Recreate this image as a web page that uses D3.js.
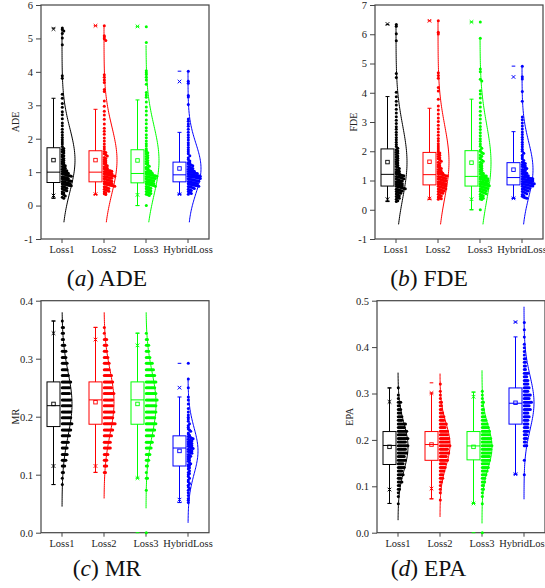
<!DOCTYPE html>
<html>
<head>
<meta charset="utf-8">
<script src="https://cdn.jsdelivr.net/npm/d3@7"></script>
<style>
  body { margin: 0; background: #fff; }
  svg { display: block; font-family: "Liberation Serif", "Times New Roman", serif; }
</style>
</head>
<body>
<svg width="545" height="588"></svg>
<script>
var categories = ["Loss1", "Loss2", "Loss3", "HybridLoss"];
var groupColors = ["#000000", "#ff0000", "#00ff00", "#0000ff"];

// ---- ADE ----
var adeTicks = [-1, 0, 1, 2, 3, 4, 5, 6];
var adeQ1 = [0.69, 0.71, 0.68, 0.71];
var adeMedian = [1.00, 1.00, 0.96, 0.92];
var adeQ3 = [1.73, 1.64, 1.67, 1.30];
var adeMean = [1.36, 1.36, 1.35, 1.11];
var adeWhiskerLo = [0.22, 0.33, 0.00, 0.34];
var adeWhiskerHi = [3.21, 2.88, 3.16, 2.19];
var adeP1 = [0.30, 0.34, 0.32, 0.34];
var adeP99 = [5.28, 5.38, 5.36, 3.71];
var adeMin = [0.22, 0.33, 0.00, 0.34];
var adeMax = [5.31, 5.38, 5.35, 4.02];
var adeSd = [0.95, 1.00, 1.05, 0.75];
var adeCurveLo = [-0.5, -0.5, -0.5, -0.5];
var adeCurveHi = [5.30, 5.38, 4.80, 4.02];
var adeLoss1 = [5.31, 5.27, 5.22, 5.15, 5.01, 4.81, 3.88, 3.81, 3.33, 3.21, 3.05, 2.94, 2.81, 2.72, 2.60, 2.47, 2.39, 2.28, 2.19, 2.11, 2.04, 1.97, 1.90, 1.84, 1.77,
  1.71, 1.68, 1.64, 1.61, 1.57, 1.52, 1.49, 1.46, 1.41, 1.38, 1.35, 1.31, 1.28, 1.25, 1.22, 1.19, 1.17, 1.14, 1.12, 1.09, 1.07, 1.05, 1.04, 1.02, 1.01,
  0.99, 0.98, 0.97, 0.95, 0.94, 0.93, 0.91, 0.90, 0.89, 0.88, 0.86, 0.85, 0.84, 0.83, 0.81, 0.80, 0.79, 0.78, 0.77, 0.75, 0.74, 0.73, 0.72, 0.71, 0.70,
  0.68, 0.67, 0.66, 0.65, 0.64, 0.63, 0.62, 0.61, 0.60, 0.59, 0.57, 0.56, 0.54, 0.52, 0.50, 0.48, 0.46, 0.44, 0.41, 0.38, 0.35, 0.32, 0.29, 0.25, 0.22];
var adeLoss2 = [5.38, 5.08, 5.04, 4.99, 4.94, 3.91, 3.84, 3.76, 3.68, 3.47, 3.41, 3.13, 2.97, 2.82, 2.71, 2.58, 2.44, 2.31, 2.22, 2.13, 2.02, 1.93, 1.84, 1.76, 1.69,
  1.62, 1.59, 1.55, 1.51, 1.48, 1.44, 1.41, 1.37, 1.34, 1.31, 1.28, 1.25, 1.22, 1.19, 1.16, 1.14, 1.12, 1.10, 1.08, 1.06, 1.05, 1.04, 1.03, 1.02, 1.01,
  0.99, 0.98, 0.97, 0.96, 0.95, 0.94, 0.93, 0.92, 0.91, 0.90, 0.89, 0.88, 0.87, 0.86, 0.85, 0.84, 0.83, 0.82, 0.80, 0.79, 0.77, 0.76, 0.75, 0.73, 0.72,
  0.70, 0.69, 0.68, 0.67, 0.66, 0.65, 0.64, 0.63, 0.62, 0.61, 0.60, 0.59, 0.58, 0.56, 0.55, 0.53, 0.51, 0.49, 0.47, 0.45, 0.43, 0.41, 0.38, 0.35, 0.33];
var adeLoss3 = [5.35, 4.88, 4.03, 3.97, 3.92, 3.84, 3.76, 3.63, 3.38, 3.31, 3.24, 3.10, 2.95, 2.83, 2.71, 2.56, 2.45, 2.33, 2.24, 2.12, 2.03, 1.93, 1.85, 1.78, 1.70,
  1.65, 1.61, 1.58, 1.54, 1.50, 1.47, 1.43, 1.39, 1.35, 1.32, 1.28, 1.25, 1.21, 1.18, 1.15, 1.12, 1.10, 1.07, 1.05, 1.03, 1.01, 1.00, 0.99, 0.98, 0.97,
  0.95, 0.94, 0.93, 0.92, 0.91, 0.90, 0.89, 0.88, 0.87, 0.86, 0.85, 0.84, 0.83, 0.82, 0.81, 0.80, 0.78, 0.77, 0.76, 0.75, 0.74, 0.72, 0.71, 0.70, 0.69,
  0.67, 0.66, 0.65, 0.64, 0.63, 0.62, 0.61, 0.60, 0.58, 0.57, 0.55, 0.54, 0.52, 0.50, 0.48, 0.46, 0.44, 0.42, 0.40, 0.38, 0.36, 0.34, 0.32, 0.30, 0.00];
var adeHybrid = [4.02, 3.72, 3.66, 3.29, 3.25, 3.02, 2.59, 2.52, 2.44, 2.37, 2.28, 2.19, 2.11, 2.04, 1.96, 1.88, 1.81, 1.74, 1.67, 1.61, 1.55, 1.49, 1.43, 1.38, 1.33,
  1.29, 1.27, 1.25, 1.23, 1.21, 1.19, 1.17, 1.15, 1.13, 1.11, 1.09, 1.08, 1.06, 1.05, 1.03, 1.02, 1.01, 1.00, 0.99, 0.98, 0.97, 0.96, 0.95, 0.94, 0.93,
  0.915, 0.91, 0.90, 0.895, 0.89, 0.88, 0.875, 0.87, 0.86, 0.855, 0.85, 0.84, 0.83, 0.82, 0.81, 0.80, 0.79, 0.78, 0.77, 0.76, 0.75, 0.74, 0.73, 0.72, 0.715,
  0.70, 0.69, 0.68, 0.67, 0.66, 0.65, 0.64, 0.63, 0.62, 0.61, 0.60, 0.59, 0.58, 0.57, 0.56, 0.55, 0.53, 0.51, 0.49, 0.47, 0.45, 0.42, 0.39, 0.36, 0.34];

// ---- FDE ----
var fdeTicks = [-1, 0, 1, 2, 3, 4, 5, 6, 7];
var fdeQ1 = [0.81, 0.85, 0.81, 0.85];
var fdeMedian = [1.21, 1.20, 1.14, 1.10];
var fdeQ3 = [2.08, 1.96, 2.02, 1.61];
var fdeMean = [1.63, 1.64, 1.61, 1.37];
var fdeWhiskerLo = [0.28, 0.36, 0.00, 0.39];
var fdeWhiskerHi = [3.87, 3.47, 3.78, 2.67];
var fdeP1 = [0.36, 0.38, 0.36, 0.39];
var fdeP99 = [6.35, 6.46, 6.42, 4.54];
var fdeMin = [0.28, 0.36, 0.00, 0.39];
var fdeMax = [6.33, 6.46, 6.42, 4.91];
var fdeSd = [1.25, 1.25, 1.30, 0.95];
var fdeCurveLo = [-0.5, -0.5, -0.5, -0.5];
var fdeCurveHi = [6.33, 6.46, 5.86, 4.91];
var fdeLoss1 = [6.33, 6.27, 6.02, 5.78, 4.66, 4.52, 4.02, 3.86, 3.71, 3.58, 3.44, 3.31, 3.18, 3.06, 2.95, 2.84, 2.75, 2.65, 2.56, 2.47, 2.39, 2.31, 2.23, 2.16, 2.10,
  2.05, 2.01, 1.97, 1.93, 1.89, 1.84, 1.80, 1.76, 1.72, 1.68, 1.64, 1.60, 1.56, 1.52, 1.48, 1.45, 1.41, 1.38, 1.35, 1.32, 1.29, 1.27, 1.25, 1.23, 1.22,
  1.20, 1.19, 1.17, 1.16, 1.14, 1.13, 1.11, 1.10, 1.08, 1.06, 1.05, 1.03, 1.01, 0.99, 0.98, 0.96, 0.94, 0.93, 0.91, 0.89, 0.88, 0.86, 0.85, 0.83, 0.82,
  0.80, 0.79, 0.78, 0.76, 0.75, 0.73, 0.72, 0.70, 0.69, 0.67, 0.66, 0.64, 0.62, 0.60, 0.58, 0.56, 0.54, 0.51, 0.48, 0.45, 0.42, 0.39, 0.36, 0.31, 0.28];
var fdeLoss2 = [6.46, 6.07, 6.01, 4.68, 4.59, 4.50, 4.18, 4.06, 3.78, 3.55, 3.41, 3.27, 3.14, 3.02, 2.89, 2.77, 2.66, 2.55, 2.44, 2.35, 2.26, 2.18, 2.11, 2.04, 1.98,
  1.94, 1.90, 1.86, 1.82, 1.78, 1.74, 1.70, 1.66, 1.62, 1.58, 1.54, 1.50, 1.47, 1.44, 1.41, 1.38, 1.35, 1.32, 1.30, 1.28, 1.26, 1.25, 1.23, 1.22, 1.21,
  1.19, 1.18, 1.16, 1.15, 1.14, 1.12, 1.11, 1.10, 1.08, 1.07, 1.05, 1.04, 1.02, 1.01, 0.99, 0.98, 0.96, 0.95, 0.93, 0.92, 0.90, 0.89, 0.88, 0.87, 0.86,
  0.84, 0.83, 0.81, 0.80, 0.78, 0.77, 0.75, 0.74, 0.72, 0.71, 0.69, 0.67, 0.66, 0.64, 0.62, 0.60, 0.58, 0.56, 0.53, 0.50, 0.47, 0.44, 0.41, 0.38, 0.36];
var fdeLoss3 = [6.42, 5.86, 4.81, 4.72, 4.46, 4.40, 4.07, 3.96, 3.82, 3.66, 3.51, 3.37, 3.23, 3.10, 2.97, 2.85, 2.74, 2.63, 2.53, 2.43, 2.34, 2.25, 2.17, 2.10, 2.04,
  2.00, 1.96, 1.92, 1.87, 1.83, 1.79, 1.74, 1.70, 1.66, 1.62, 1.58, 1.54, 1.50, 1.46, 1.42, 1.38, 1.35, 1.31, 1.28, 1.25, 1.22, 1.20, 1.18, 1.16, 1.15,
  1.13, 1.12, 1.10, 1.09, 1.08, 1.06, 1.05, 1.04, 1.02, 1.01, 0.99, 0.98, 0.97, 0.95, 0.94, 0.92, 0.91, 0.90, 0.88, 0.87, 0.86, 0.85, 0.84, 0.83, 0.82,
  0.80, 0.79, 0.77, 0.76, 0.74, 0.73, 0.71, 0.70, 0.68, 0.67, 0.65, 0.63, 0.61, 0.59, 0.57, 0.55, 0.53, 0.50, 0.48, 0.45, 0.42, 0.39, 0.37, 0.35, 0.00];
var fdeHybrid = [4.91, 4.55, 4.47, 4.04, 3.71, 3.17, 3.08, 2.97, 2.86, 2.76, 2.66, 2.57, 2.48, 2.40, 2.31, 2.23, 2.15, 2.07, 2.00, 1.93, 1.86, 1.80, 1.74, 1.68, 1.63,
  1.60, 1.58, 1.55, 1.53, 1.50, 1.48, 1.45, 1.43, 1.41, 1.38, 1.36, 1.34, 1.31, 1.29, 1.27, 1.25, 1.23, 1.21, 1.19, 1.17, 1.16, 1.14, 1.13, 1.12, 1.11,
  1.09, 1.08, 1.07, 1.06, 1.05, 1.04, 1.03, 1.02, 1.01, 1.00, 0.99, 0.98, 0.97, 0.96, 0.95, 0.94, 0.93, 0.92, 0.91, 0.90, 0.89, 0.88, 0.87, 0.86, 0.855,
  0.84, 0.83, 0.82, 0.81, 0.80, 0.78, 0.77, 0.76, 0.74, 0.73, 0.71, 0.70, 0.68, 0.66, 0.64, 0.62, 0.60, 0.58, 0.55, 0.52, 0.49, 0.46, 0.43, 0.41, 0.39];

// ---- MR ----
var mrTicks = [0, 0.1, 0.2, 0.3, 0.4];
var mrQ1 = [0.183, 0.187, 0.187, 0.115];
var mrMedian = [0.219, 0.229, 0.229, 0.146];
var mrQ3 = [0.260, 0.260, 0.260, 0.167];
var mrMean = [0.222, 0.225, 0.222, 0.141];
var mrWhiskerLo = [0.083, 0.104, 0.094, 0.052];
var mrWhiskerHi = [0.365, 0.354, 0.344, 0.234];
var mrP1 = [0.115, 0.115, 0.094, 0.057];
var mrP99 = [0.344, 0.333, 0.323, 0.250];
var mrMin = [0.083, 0.104, 0.000, 0.052];
var mrMax = [0.365, 0.354, 0.344, 0.292];
var mrSd = [0.055, 0.055, 0.055, 0.040];
var mrCurveLo = [0.045, 0.059, 0.042, 0.017];
var mrCurveHi = [0.380, 0.380, 0.380, 0.267];
var mrLevels = [0.000, 0.042, 0.052, 0.063, 0.073, 0.083, 0.094, 0.104, 0.115, 0.125, 0.135,
  0.146, 0.156, 0.167, 0.177, 0.188, 0.198, 0.208, 0.219, 0.229, 0.240, 0.250,
  0.260, 0.271, 0.281, 0.292, 0.302, 0.313, 0.323, 0.333, 0.344, 0.354, 0.365];
var mrLoss1Counts = [0, 0, 0, 0, 0, 1, 1, 2, 3, 4, 5, 5, 6, 7, 8, 9, 8, 8, 8, 8, 7, 7, 8, 6, 5, 5, 4, 4, 3, 2, 2, 2, 1];
var mrLoss2Counts = [0, 0, 0, 0, 0, 0, 0, 2, 3, 3, 4, 6, 6, 7, 8, 10, 8, 9, 8, 8, 9, 7, 8, 7, 5, 5, 4, 3, 3, 3, 1, 1, 0];
var mrLoss3Counts = [1, 0, 0, 0, 1, 0, 2, 1, 2, 3, 4, 5, 6, 7, 8, 9, 8, 9, 9, 10, 9, 8, 9, 8, 7, 6, 4, 3, 3, 2, 1, 0, 0];
var mrHybrid = [0.292, 0.265, 0.250, 0.234, 0.229, 0.222, 0.214, 0.208, 0.203, 0.199, 0.196, 0.192, 0.188, 0.185, 0.182, 0.179, 0.177, 0.175, 0.172, 0.170, 0.168,
  0.166, 0.165, 0.164, 0.163, 0.162, 0.161, 0.160, 0.159, 0.158, 0.157, 0.156, 0.155, 0.154, 0.153, 0.152, 0.151, 0.150, 0.149, 0.148, 0.147, 0.146,
  0.145, 0.144, 0.143, 0.142, 0.141, 0.140, 0.139, 0.138, 0.137, 0.135, 0.134, 0.132, 0.131, 0.129, 0.127, 0.125, 0.123, 0.121, 0.119, 0.117, 0.116,
  0.114, 0.112, 0.110, 0.107, 0.104, 0.102, 0.100, 0.097, 0.094, 0.091, 0.088, 0.085, 0.082, 0.079, 0.076, 0.073, 0.069, 0.064, 0.059, 0.056, 0.052];

// ---- EPA ----
var epaTicks = [0, 0.1, 0.2, 0.3, 0.4, 0.5];
var epaQ1 = [0.147, 0.156, 0.157, 0.234];
var epaMedian = [0.188, 0.190, 0.187, 0.279];
var epaQ3 = [0.218, 0.218, 0.218, 0.312];
var epaMean = [0.185, 0.190, 0.185, 0.280];
var epaWhiskerLo = [0.063, 0.073, 0.063, 0.126];
var epaWhiskerHi = [0.312, 0.301, 0.303, 0.422];
var epaP1 = [0.093, 0.095, 0.063, 0.126];
var epaP99 = [0.282, 0.301, 0.293, 0.454];
var epaMin = [0.063, 0.073, 0.000, 0.126];
var epaMax = [0.312, 0.323, 0.303, 0.454];
var epaSd = [0.050, 0.046, 0.046, 0.058];
var epaCurveLo = [0.027, 0.034, 0.020, 0.072];
var epaCurveHi = [0.345, 0.343, 0.350, 0.487];
var epaLevels = [0.0000, 0.0078, 0.0156, 0.0234, 0.0313, 0.0391, 0.0469, 0.0547, 0.0625, 0.0703,
  0.0781, 0.0859, 0.0938, 0.1016, 0.1094, 0.1172, 0.1250, 0.1328, 0.1406, 0.1484,
  0.1563, 0.1641, 0.1719, 0.1797, 0.1875, 0.1953, 0.2031, 0.2109, 0.2188, 0.2266,
  0.2344, 0.2422, 0.2500, 0.2578, 0.2656, 0.2734, 0.2813, 0.2891, 0.2969, 0.3047,
  0.3125, 0.3203, 0.3281, 0.3359, 0.3438, 0.3516, 0.3594, 0.3672, 0.3750, 0.3828,
  0.3906, 0.3984, 0.4063, 0.4141, 0.4219, 0.4297, 0.4375, 0.4453, 0.4531];
var epaLoss1Counts = [0, 0, 0, 0, 0, 0, 0, 0, 1, 0,
  1, 1, 2, 2, 4, 3, 5, 4, 6, 5,
  7, 6, 8, 7, 9, 7, 9, 7, 8, 6,
  7, 4, 4, 3, 3, 2, 3, 1, 1, 0,
  1, 0, 0, 0, 0, 0, 0, 0, 0, 0,
  0, 0, 0, 0, 0, 0, 0, 0, 0];
var epaLoss2Counts = [0, 0, 0, 0, 0, 0, 0, 0, 0, 1,
  0, 1, 1, 1, 2, 3, 3, 4, 5, 5,
  7, 6, 8, 7, 9, 8, 8, 7, 7, 5,
  6, 4, 4, 3, 2, 2, 2, 1, 1, 1,
  0, 1, 0, 0, 0, 0, 0, 0, 0, 0,
  0, 0, 0, 0, 0, 0, 0, 0, 0];
var epaLoss3Counts = [1, 0, 0, 0, 0, 0, 0, 0, 1, 0,
  1, 1, 2, 2, 3, 3, 4, 5, 6, 6,
  7, 7, 8, 8, 9, 8, 8, 7, 7, 6,
  5, 4, 3, 2, 2, 1, 2, 1, 1, 1,
  0, 0, 0, 0, 0, 0, 0, 0, 0, 0,
  0, 0, 0, 0, 0, 0, 0, 0, 0];
var epaHybridCounts = [0, 0, 0, 0, 0, 0, 0, 0, 0, 0,
  0, 0, 0, 0, 0, 0, 1, 0, 0, 0,
  1, 0, 0, 0, 3, 2, 3, 3, 4, 4,
  4, 4, 5, 4, 6, 5, 7, 5, 6, 4,
  5, 4, 4, 3, 4, 2, 2, 2, 2, 1,
  1, 1, 1, 0, 1, 0, 1, 0, 1];

// one value per dot, repeated for discrete rows
function expandLevels(levels, counts) {
  return d3.merge(levels.map(function(v, i) {
    return d3.range(counts[i]).map(function() { return v; });
  }));
}

function statsOf(q1, med, q3, mean, wlo, whi, p1, p99, mn, mx, sd, clo, chi) {
  return categories.map(function(c, i) {
    return { q1: q1[i], median: med[i], q3: q3[i], mean: mean[i], wlo: wlo[i], whi: whi[i],
             p1: p1[i], p99: p99[i], min: mn[i], max: mx[i], sd: sd[i], clo: clo[i], chi: chi[i] };
  });
}

var intFmt = function(d) { return String(d); };
var decFmt = d3.format(".1f");
var serif = "'Liberation Serif', 'Times New Roman', serif";

var panels = [
  { name: "ADE", letter: "a", left: 41, right: 209, top: 5, bottom: 239, domain: [-1, 6], ticks: adeTicks, fmt: intFmt,
    stats: statsOf(adeQ1, adeMedian, adeQ3, adeMean, adeWhiskerLo, adeWhiskerHi, adeP1, adeP99, adeMin, adeMax, adeSd, adeCurveLo, adeCurveHi),
    points: [adeLoss1, adeLoss2, adeLoss3, adeHybrid], curveW: 13, step: 1.5, titleX: 18.5, capX: 107, capY: 286 },
  { name: "FDE", letter: "b", left: 375, right: 543, top: 5, bottom: 239, domain: [-1, 7], ticks: fdeTicks, fmt: intFmt,
    stats: statsOf(fdeQ1, fdeMedian, fdeQ3, fdeMean, fdeWhiskerLo, fdeWhiskerHi, fdeP1, fdeP99, fdeMin, fdeMax, fdeSd, fdeCurveLo, fdeCurveHi),
    points: [fdeLoss1, fdeLoss2, fdeLoss3, fdeHybrid], curveW: 11, step: 1.5, titleX: 357, capX: 429, capY: 286 },
  { name: "MR", letter: "c", left: 41, right: 209, top: 300.7, bottom: 532.7, domain: [0, 0.4], ticks: mrTicks, fmt: decFmt,
    stats: statsOf(mrQ1, mrMedian, mrQ3, mrMean, mrWhiskerLo, mrWhiskerHi, mrP1, mrP99, mrMin, mrMax, mrSd, mrCurveLo, mrCurveHi),
    points: [expandLevels(mrLevels, mrLoss1Counts), expandLevels(mrLevels, mrLoss2Counts), expandLevels(mrLevels, mrLoss3Counts), mrHybrid],
    curveW: 10, step: 1.2, titleX: 19, capX: 107, capY: 576 },
  { name: "EPA", letter: "d", left: 377, right: 545, top: 300.7, bottom: 532.7, domain: [0, 0.5], ticks: epaTicks, fmt: decFmt,
    stats: statsOf(epaQ1, epaMedian, epaQ3, epaMean, epaWhiskerLo, epaWhiskerHi, epaP1, epaP99, epaMin, epaMax, epaSd, epaCurveLo, epaCurveHi),
    points: [expandLevels(epaLevels, epaLoss1Counts), expandLevels(epaLevels, epaLoss2Counts), expandLevels(epaLevels, epaLoss3Counts), expandLevels(epaLevels, epaHybridCounts)],
    curveW: 10, step: 1.2, titleX: 353, capX: 428.5, capY: 576 }
];

var svg = d3.select("svg");

panels.forEach(drawPanel);

function drawPanel(p) {
  var g = svg.append("g").attr("class", "panel-" + p.letter);

  var x = d3.scaleBand().domain(categories).range([p.left, p.right]);
  var y = d3.scaleLinear().domain(p.domain).range([p.bottom, p.top]);

  // axes
  var yAxis = g.append("g").attr("transform", "translate(" + p.left + ",0)")
    .call(d3.axisLeft(y).tickValues(p.ticks).tickFormat(p.fmt).tickSize(5).tickPadding(3));
  var xAxis = g.append("g").attr("transform", "translate(0," + p.bottom + ")")
    .call(d3.axisBottom(x).tickSize(4).tickPadding(3));
  [yAxis, xAxis].forEach(function(a) {
    a.attr("font-family", serif);
    a.select(".domain").remove();
    a.selectAll("line").attr("stroke", "#444");
    a.selectAll("text").attr("fill", "#222").style("font-size", "10.5px").style("font-family", serif);
  });

  g.append("rect")
    .attr("x", p.left).attr("y", p.top)
    .attr("width", p.right - p.left).attr("height", p.bottom - p.top)
    .attr("fill", "none").attr("stroke", "#444").attr("stroke-width", 1.2);

  g.append("text")
    .attr("transform", "translate(" + p.titleX + "," + ((p.top + p.bottom) / 2) + ") rotate(-90)")
    .attr("text-anchor", "middle")
    .style("font-size", "10px")
    .style("font-family", serif)
    .attr("fill", "#222")
    .text(p.name);

  categories.forEach(function(cat, i) {
    var col = groupColors[i];
    var s = p.stats[i];
    var cx = x(cat) + x.bandwidth() / 2;
    var bx = cx - 8.5;
    var grp = g.append("g");

    // whiskers
    grp.append("line").attr("x1", bx).attr("x2", bx).attr("y1", y(s.q3)).attr("y2", y(s.whi)).attr("stroke", col);
    grp.append("line").attr("x1", bx).attr("x2", bx).attr("y1", y(s.q1)).attr("y2", y(s.wlo)).attr("stroke", col);
    [s.whi, s.wlo].forEach(function(v) {
      grp.append("line").attr("x1", bx - 2).attr("x2", bx + 2).attr("y1", y(v)).attr("y2", y(v)).attr("stroke", col);
    });

    // box + median
    grp.append("rect")
      .attr("x", cx - 15).attr("y", y(s.q3))
      .attr("width", 13).attr("height", y(s.q1) - y(s.q3))
      .attr("fill", "none").attr("stroke", col).attr("stroke-width", 1);
    grp.append("line").attr("x1", cx - 15).attr("x2", cx - 2)
      .attr("y1", y(s.median)).attr("y2", y(s.median)).attr("stroke", col);

    // mean square
    grp.append("rect")
      .attr("x", bx - 1.75).attr("y", y(s.mean) - 1.75)
      .attr("width", 3.5).attr("height", 3.5)
      .attr("fill", "none").attr("stroke", col).attr("stroke-width", 0.9);

    // 1% / 99% crosses
    [s.p1, s.p99].forEach(function(v) {
      grp.append("path")
        .attr("transform", "translate(" + bx + "," + y(v) + ")")
        .attr("d", "M-1.8,-1.8L1.8,1.8M-1.8,1.8L1.8,-1.8")
        .attr("stroke", col).attr("stroke-width", 1).attr("fill", "none");
    });

    // min / max dashes
    [s.min, s.max].forEach(function(v) {
      grp.append("line").attr("x1", bx - 1.8).attr("x2", bx + 1.8)
        .attr("y1", y(v)).attr("y2", y(v)).attr("stroke", col);
    });

    // data points, stacked to the right of the category line
    var sorted = p.points[i].slice().sort(d3.descending);
    var used = {};
    var dots = sorted.map(function(v) {
      var py = y(v);
      var b = Math.round(py / 2.5);
      var k = used[b] || 0;
      used[b] = k + 1;
      return { x: cx + 0.3 + k * p.step, y: py };
    });
    grp.selectAll("circle.pt")
      .data(dots)
      .enter().append("circle")
      .attr("class", "pt")
      .attr("cx", function(d) { return d.x; })
      .attr("cy", function(d) { return d.y; })
      .attr("r", 1.5)
      .attr("fill", col);

    // normal distribution curve
    var n = 100;
    var vals = d3.range(n + 1).map(function(t) { return s.clo + (s.chi - s.clo) * t / n; });
    var line = d3.line()
      .x(function(v) { var z = (v - s.mean) / s.sd; return cx + p.curveW * Math.exp(-0.5 * z * z); })
      .y(function(v) { return y(v); });
    grp.append("path")
      .datum(vals)
      .attr("d", line)
      .attr("fill", "none")
      .attr("stroke", col)
      .attr("stroke-width", 1);
  });

  // caption
  var cap = svg.append("text")
    .attr("x", p.capX).attr("y", p.capY)
    .attr("text-anchor", "middle")
    .attr("fill", "#111")
    .style("font-family", serif)
    .style("font-size", "23.5px");
  cap.append("tspan").text("(");
  cap.append("tspan").style("font-style", "italic").text(p.letter);
  cap.append("tspan").text(") " + p.name);
}
</script>
</body>
</html>
